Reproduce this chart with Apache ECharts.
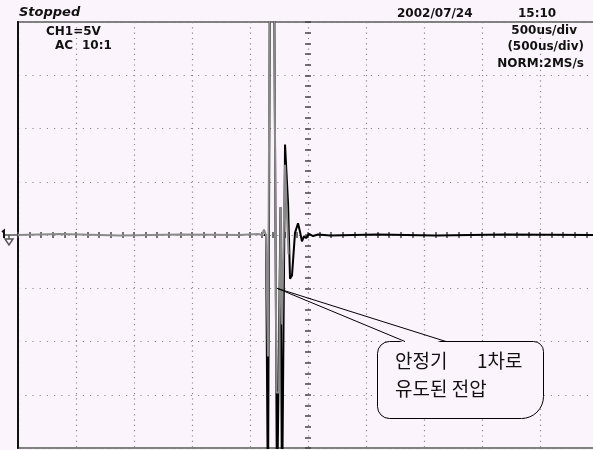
<!DOCTYPE html>
<html>
<head>
<meta charset="utf-8">
<script src="https://cdn.jsdelivr.net/npm/echarts@6/dist/echarts.min.js"></script>
<style>
  html, body { margin: 0; padding: 0; background: #fcf4fc; }
  #scope { width: 593px; height: 450px; }
</style>
</head>
<body>
<div id="scope"></div>
<script>
// Horizontal axis: time in microseconds (500 us/div, 10 divisions)
const timeMin = -2500;
const timeMax = 2500;
const timeDiv = 500;
const timeMinorDiv = 100;
// Vertical axis: CH1 voltage in volts (5 V/div, 8 divisions)
const voltMin = -20;
const voltMax = 20;
const voltDiv = 5;
const voltMinorDiv = 1;

// Gray trace: quiet baseline, then the clipped induced burst
const grayTime = [-2500, -2140, -1620, -1100, -590, -430, -395, -380, -362, -345, -328, -293, -272, -250, -237, -224, -198, -168];
const grayVolt = [0, 0.1, -0.05, 0.05, 0, 0.1, 0, 0.5, 0, -11.4, 26, 26, -14.8, -14.8, 2.6, -8.4, 6.6, -1.8];

// Black trace: full-swing burst and its decaying ring-down
const blackTime = [-380, -362, -345, -328, -293, -267, -250, -237, -224, -198, -172, -155, -138, -112, -86, -69, -52, -34, -17, 9, 43, 86, 190, 600, 1100, 1700, 2500];
const blackVolt = [0, 0, -26, 26, 26, -26, -26, 2.6, -26, 8.5, 3, -4.1, -3.8, 0.2, 1.1, 0.3, -0.6, -0.1, -0.3, 0.1, -0.1, 0.05, -0.05, 0.05, -0.05, 0.05, 0];

// Screen annotations
const statusText = 'Stopped';
const dateText = '2002/07/24';
const clockText = '15:10';
const channelText = 'CH1=5V';
const couplingText = 'AC';
const probeText = '10:1';
const timebaseText = '500us/div';
const zoomTimebaseText = '(500us/div)';
const acquireText = 'NORM:2MS/s';
const calloutLine1a = '안정기';
const calloutLine1b = '1차로';
const calloutLine2 = '유도된 전압';
// Data point the callout tail points at [us, V]
const calloutTarget = [-268, -5];

const bg = '#fcf4fc';
const dotColor = '#8c8c8c';
const tickColor = '#444';
const hudFont = 'bold 12px "DejaVu Sans"';
const calloutFont = '19px "Noto Sans CJK KR"';

const pairs = (xs, ys) => xs.map((x, i) => [x, ys[i]]);

const chart = echarts.init(document.getElementById('scope'), null, { renderer: 'canvas' });

function tickAxis(inside, extra) {
  return Object.assign({
    type: 'value',
    gridIndex: 0,
    axisLine: { show: false, onZero: true, onZeroAxisIndex: 0 },
    axisTick: { show: true, inside: inside, length: 3, lineStyle: { color: tickColor, width: 1.5 } },
    axisLabel: { show: false },
    splitLine: { show: false }
  }, extra);
}

const option = {
  backgroundColor: bg,
  animation: false,
  grid: {
    left: 18, top: 22, right: -5, bottom: 2,
    containLabel: false,
    outerBoundsMode: 'none',
    show: true,
    borderColor: '#808080',
    borderWidth: 2,
    backgroundColor: 'transparent'
  },
  xAxis: [
    {
      type: 'value', min: timeMin, max: timeMax, interval: timeDiv,
      axisLine: { show: false, onZero: false },
      axisTick: { show: false },
      axisLabel: { show: false },
      splitLine: { show: true, lineStyle: { color: dotColor, width: 1.2, type: [1.2, 4.1] } }
    },
    tickAxis(true, { min: timeMin, max: timeMax, interval: timeMinorDiv, position: 'bottom' }),
    tickAxis(false, { min: timeMin, max: timeMax, interval: timeMinorDiv, position: 'bottom' })
  ],
  yAxis: [
    {
      type: 'value', min: voltMin, max: voltMax, interval: voltDiv,
      axisLine: { show: true, onZero: false, lineStyle: { color: '#111', width: 2 } },
      axisTick: { show: false },
      axisLabel: { show: false },
      splitLine: { show: true, lineStyle: { color: dotColor, width: 1.2, type: [1.2, 6.0] } }
    },
    tickAxis(true, { min: voltMin, max: voltMax, interval: voltMinorDiv, position: 'left' }),
    tickAxis(false, { min: voltMin, max: voltMax, interval: voltMinorDiv, position: 'left' })
  ],
  series: [
    {
      name: 'CH1 black',
      type: 'line',
      xAxisIndex: 0, yAxisIndex: 0,
      data: pairs(blackTime, blackVolt),
      symbol: 'none',
      clip: true,
      z: 3,
      lineStyle: { color: '#000', width: 2 }
    },
    {
      name: 'CH1 gray',
      type: 'line',
      xAxisIndex: 0, yAxisIndex: 0,
      data: pairs(grayTime, grayVolt),
      symbol: 'none',
      clip: true,
      z: 4,
      lineStyle: { color: '#8a8a8a', width: 2 }
    }
  ]
};

chart.setOption(option);

// Pixel positions derived from the axes
const tip = chart.convertToPixel({ xAxisIndex: 0, yAxisIndex: 0 }, calloutTarget);
const zeroY = chart.convertToPixel({ yAxisIndex: 0 }, 0);

function txt(text, x, y, align, font, z) {
  return {
    type: 'text', z: z || 30, silent: true,
    style: { text: text, x: x, y: y, textAlign: align, textVerticalAlign: 'middle', font: font || hudFont, fill: '#111' }
  };
}

chart.setOption({
  graphic: [
    txt(statusText, 19, 13, 'left', 'italic bold 13px "DejaVu Sans"'),
    txt(dateText, 397, 14, 'left'),
    txt(clockText, 518, 14, 'left'),
    txt(channelText, 46, 32, 'left'),
    txt(couplingText, 55, 46, 'left'),
    txt(probeText, 82, 46, 'left'),
    txt(timebaseText, 577, 31, 'right'),
    txt(zoomTimebaseText, 584, 47, 'right'),
    txt(acquireText, 584, 64, 'right'),
    // ground symbol at the CH1 reference level
    {
      type: 'group', z: 30, silent: true,
      children: [
        { type: 'polyline', z: 30, shape: { points: [[2, zeroY - 3], [4, zeroY - 4.5], [4, zeroY + 3]] }, style: { stroke: '#111', lineWidth: 2, fill: null } },
        { type: 'line', z: 30, shape: { x1: 5, y1: zeroY, x2: 18, y2: zeroY }, style: { stroke: '#555', lineWidth: 1.5 } },
        { type: 'line', z: 30, shape: { x1: 9, y1: zeroY, x2: 9, y2: zeroY + 4 }, style: { stroke: '#555', lineWidth: 1.5 } },
        { type: 'polygon', z: 30, shape: { points: [[5, zeroY + 4], [13, zeroY + 4], [9, zeroY + 10]] }, style: { stroke: '#555', lineWidth: 1.5, fill: null } }
      ]
    },
    // speech-bubble callout
    {
      type: 'rect', z: 40, silent: true,
      shape: { x: 377.5, y: 341.5, width: 166, height: 77, r: [12, 10, 22, 12] },
      style: { fill: bg, stroke: '#000', lineWidth: 1 }
    },
    {
      type: 'polygon', z: 41, silent: true,
      shape: { points: [[406, 343.5], tip, [445, 343.5]] },
      style: { fill: bg, stroke: null }
    },
    {
      type: 'polyline', z: 42, silent: true,
      shape: { points: [[405, 341.5], tip, [446, 341.5]] },
      style: { stroke: '#000', lineWidth: 1, fill: null }
    },
    txt(calloutLine1a, 395, 361, 'left', calloutFont, 50),
    txt(calloutLine1b, 477, 361, 'left', calloutFont, 50),
    txt(calloutLine2, 395, 389, 'left', calloutFont, 50)
  ]
});
</script>
</body>
</html>
